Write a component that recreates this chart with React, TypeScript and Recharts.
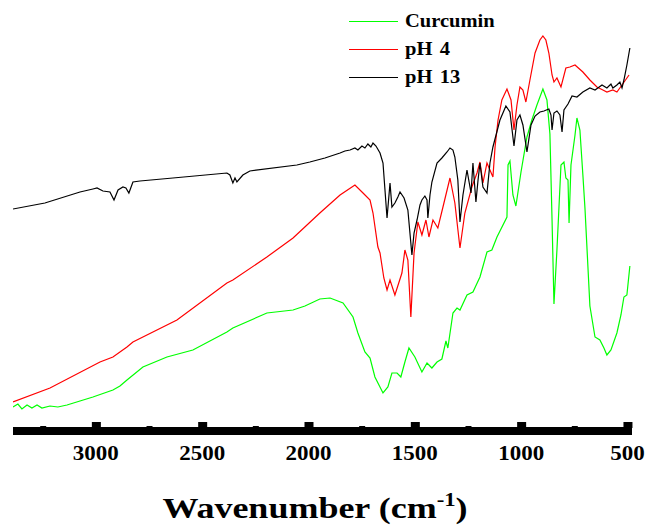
import React from 'react';
import { LineChart, Line, XAxis, YAxis } from 'recharts';

// wavenumber (cm-1) / transmittance in arbitrary units
const curcumin = [
  [3392, 24], [3369, 27], [3350, 22], [3326, 26], [3303, 23], [3279, 26], [3256, 23],
  [3218, 25], [3181, 24], [3138, 26], [3077, 30], [3016, 34], [2922, 41], [2889, 45],
  [2856, 51], [2781, 64], [2668, 74], [2546, 81], [2386, 99], [2358, 103], [2198, 118],
  [2075, 121], [2019, 125], [1949, 132], [1901, 133], [1840, 128], [1793, 114], [1770, 98],
  [1737, 79], [1713, 73], [1690, 54], [1652, 38], [1629, 44], [1610, 58], [1586, 58],
  [1568, 54], [1549, 69], [1530, 83], [1502, 74], [1469, 59], [1445, 68], [1422, 63],
  [1398, 69], [1375, 72], [1356, 90], [1347, 83], [1323, 118], [1304, 123], [1290, 121],
  [1257, 136], [1229, 139], [1196, 154], [1163, 179], [1140, 181], [1116, 194], [1069, 214],
  [1064, 266], [1055, 270], [1041, 236], [1027, 225], [1003, 259], [975, 294], [952, 311],
  [928, 326], [900, 342], [881, 331], [867, 297], [857, 211], [848, 127], [834, 181],
  [815, 266], [801, 269], [792, 253], [782, 251], [777, 208], [768, 266], [749, 296],
  [740, 313], [726, 301], [712, 256], [702, 222], [679, 125], [655, 94], [632, 91],
  [613, 83], [599, 76], [580, 81], [552, 98], [533, 116], [519, 134], [505, 136], [491, 165],
];

const ph4 = [
  [3392, 29], [3218, 43], [2983, 69], [2922, 74], [2856, 84], [2828, 89], [2621, 111],
  [2386, 148], [2358, 151], [2198, 174], [2075, 193], [1949, 218], [1854, 236], [1784, 246],
  [1746, 238], [1713, 231], [1699, 218], [1676, 184], [1666, 178], [1648, 153], [1633, 141],
  [1619, 151], [1596, 136], [1563, 158], [1549, 181], [1535, 171], [1521, 114], [1506, 178],
  [1488, 209], [1469, 196], [1450, 211], [1436, 194], [1417, 211], [1394, 203], [1370, 224],
  [1337, 253], [1314, 228], [1290, 183], [1267, 218], [1234, 244], [1210, 258], [1196, 269],
  [1182, 248], [1163, 268], [1135, 254], [1125, 284], [1111, 311], [1093, 331], [1069, 342],
  [1050, 331], [1036, 301], [1022, 326], [1008, 344], [994, 341], [980, 329], [961, 351],
  [937, 378], [914, 391], [900, 395], [886, 391], [872, 378], [857, 356], [848, 349],
  [834, 353], [815, 344], [792, 363], [773, 364], [749, 366], [712, 359], [679, 351],
  [646, 344], [618, 341], [599, 339], [571, 341], [552, 339], [528, 346], [495, 356],
];

const ph13 = [
  [3392, 222], [3242, 228], [3077, 239], [3016, 242], [2997, 243], [2969, 240], [2936, 239],
  [2917, 231], [2898, 241], [2875, 244], [2861, 243], [2847, 238], [2828, 249], [2795, 250],
  [2640, 253], [2386, 258], [2372, 256], [2358, 248], [2348, 253], [2339, 249], [2311, 256],
  [2278, 260], [2057, 266], [1996, 269], [1925, 273], [1854, 278], [1831, 280], [1807, 281],
  [1784, 283], [1770, 281], [1751, 285], [1737, 283], [1723, 287], [1709, 284], [1699, 288],
  [1685, 285], [1666, 278], [1652, 268], [1633, 213], [1619, 248], [1610, 224], [1596, 228],
  [1582, 234], [1572, 239], [1553, 233], [1535, 221], [1516, 176], [1506, 198], [1492, 211],
  [1478, 226], [1469, 231], [1455, 235], [1445, 231], [1441, 213], [1431, 236], [1422, 249],
  [1398, 268], [1375, 273], [1351, 279], [1337, 283], [1323, 281], [1314, 274], [1300, 251],
  [1290, 209], [1276, 236], [1257, 261], [1238, 238], [1229, 268], [1215, 229], [1205, 251],
  [1196, 268], [1182, 244], [1163, 238], [1149, 268], [1135, 284], [1102, 311], [1074, 325],
  [1055, 319], [1036, 285], [1022, 311], [1008, 316], [994, 306], [975, 279], [956, 306],
  [937, 315], [914, 319], [895, 320], [872, 322], [862, 316], [857, 301], [848, 318],
  [834, 320], [820, 316], [810, 299], [801, 321], [782, 327], [763, 335], [740, 334],
  [712, 339], [679, 343], [655, 341], [622, 346], [599, 343], [580, 347], [571, 343],
  [552, 346], [538, 349], [528, 343], [519, 351], [505, 366], [491, 383],
];

const xTicks = [3250, 3000, 2750, 2500, 2250, 2000, 1750, 1500, 1250, 1000, 750, 500];

const toRows = (arr: number[][]) => arr.map(([wn, t]) => ({ wn, t }));

const legendItems = [
  { name: 'Curcumin', color: '#00ff00' },
  { name: 'pH 4', color: '#ff0000' },
  { name: 'pH 13', color: '#000000' },
];

const FONT = "'Liberation Serif', 'Times New Roman', serif";

const AxisTick = ({ x, payload }: any) => {
  const major = payload.value % 500 === 0;
  if (!major) {
    return <rect x={x - 3} y={426} width={6} height={1.5} fill="#000" />;
  }
  return (
    <g>
      <rect x={x - 4.5} y={422} width={9} height={6} fill="#000" />
      <text
        transform={`translate(${x - 0.5},460) scale(1.07,1)`}
        textAnchor="middle"
        fontFamily={FONT}
        fontWeight="bold"
        fontSize={21.5}
        fill="#000"
      >
        {payload.value}
      </text>
    </g>
  );
};

const AxisTitle = () => (
  <text
    transform="translate(315,518) scale(1.2,1)"
    textAnchor="middle"
    fontFamily={FONT}
    fontWeight="bold"
    fontSize={30}
    fill="#000"
  >
    Wavenumber (cm
    <tspan dy={-12} fontSize={19}>-1</tspan>
    <tspan dy={12}>)</tspan>
  </text>
);

const App: React.FC = () => {
  return (
    <div style={{ position: 'absolute', left: 0, top: 0, width: 645, height: 529, background: '#fff' }}>
      <LineChart width={645} height={529} margin={{ top: 0, right: 13, left: 13, bottom: 0 }}>
        <XAxis
          dataKey="wn"
          type="number"
          domain={[481, 3392]}
          reversed
          ticks={xTicks}
          interval={0}
          height={98}
          tickLine={false}
          axisLine={{ stroke: '#000', strokeWidth: 8 }}
          tick={<AxisTick />}
          label={{ content: () => <AxisTitle /> }}
          allowDataOverflow
        />
        <YAxis hide domain={[0, 431]} width={0} />
        <Line data={toRows(curcumin)} dataKey="t" type="linear" stroke="#00ff00" strokeWidth={1.2} dot={false} isAnimationActive={false} />
        <Line data={toRows(ph4)} dataKey="t" type="linear" stroke="#ff0000" strokeWidth={1.2} dot={false} isAnimationActive={false} />
        <Line data={toRows(ph13)} dataKey="t" type="linear" stroke="#000000" strokeWidth={1.2} dot={false} isAnimationActive={false} />
      </LineChart>
      <div style={{ position: 'absolute', left: 349, top: 7, fontFamily: FONT, fontWeight: 'bold', fontSize: 18 }}>
        {legendItems.map((item) => (
          <div key={item.name} style={{ display: 'flex', alignItems: 'center', height: 28 }}>
            <span style={{ display: 'inline-block', width: 49, height: 0, borderTop: `1.3px solid ${item.color}`, marginRight: 7 }} />
            <span style={{ display: 'inline-block', transform: 'scaleX(1.14)', transformOrigin: 'left center', wordSpacing: 2 }}>
              {item.name}
            </span>
          </div>
        ))}
      </div>
    </div>
  );
};

export default App;
